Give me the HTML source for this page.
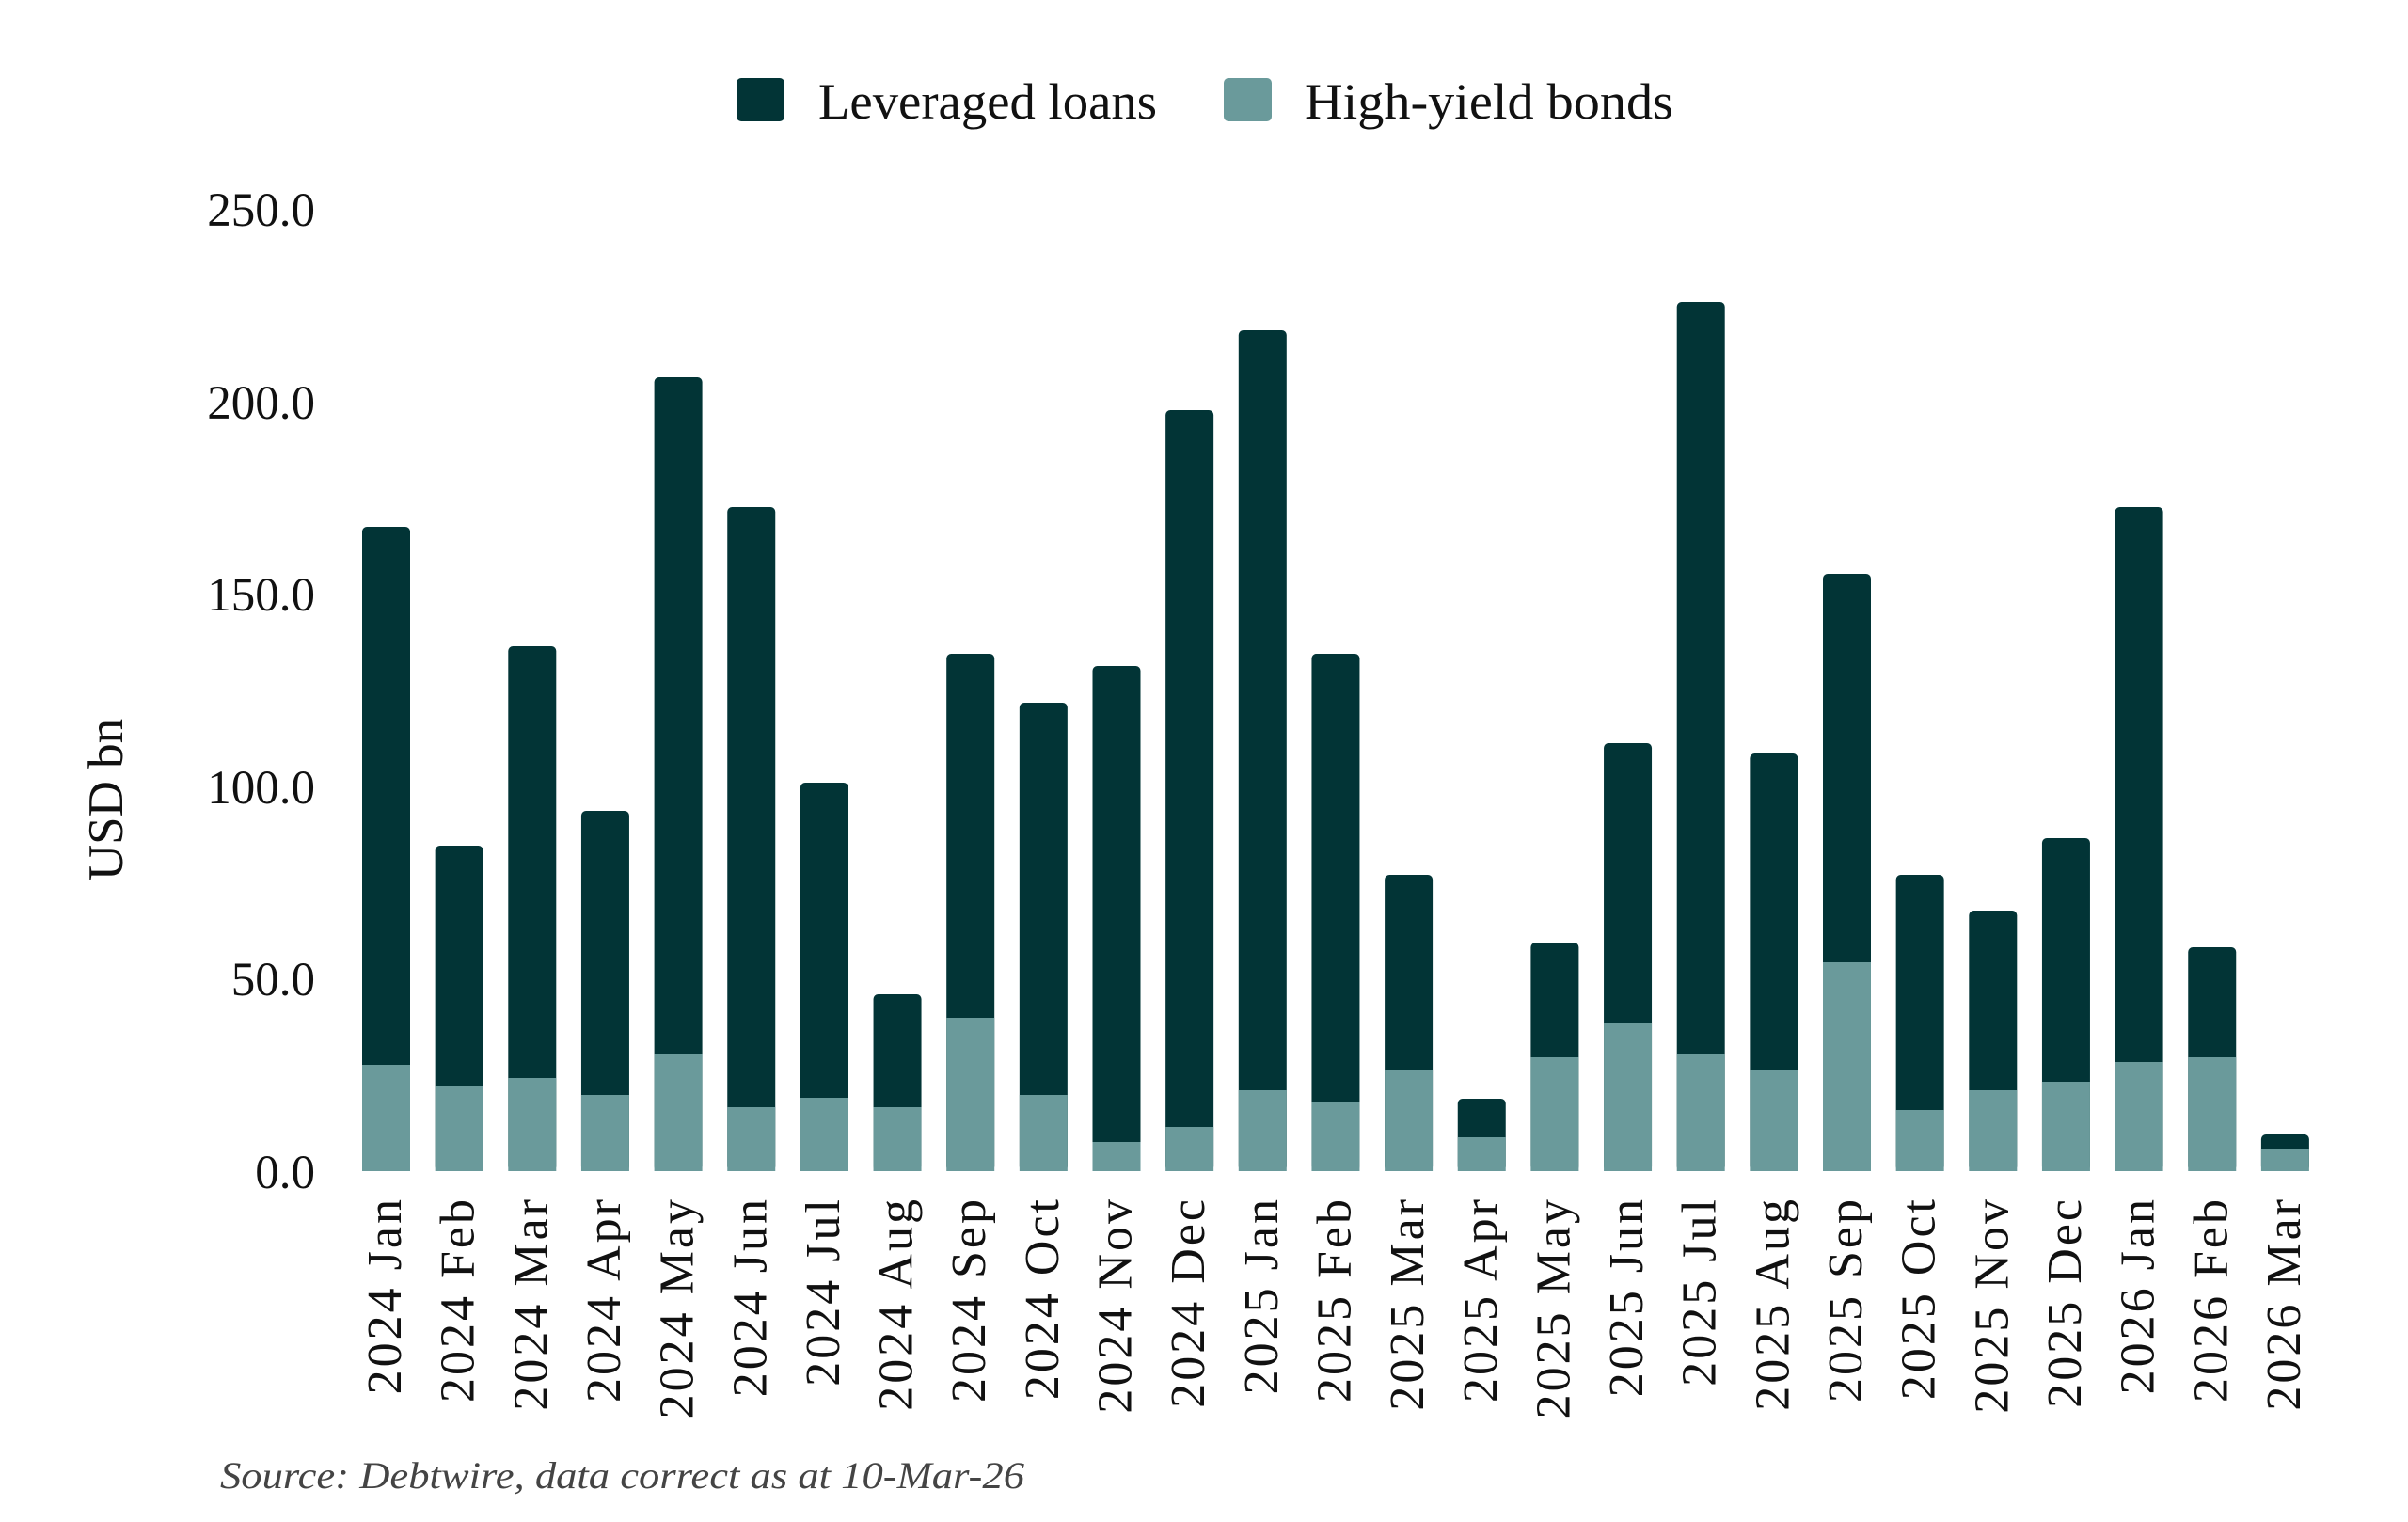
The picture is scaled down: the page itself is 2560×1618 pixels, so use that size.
<!DOCTYPE html>
<html><head><meta charset="utf-8"><style>
html,body{margin:0;padding:0;background:#fff;}
svg{display:block;}
text{font-family:"Liberation Serif",serif;fill:#111;}
</style></head><body>
<svg width="2560" height="1618" viewBox="0 0 2560 1618" xmlns="http://www.w3.org/2000/svg">
<rect width="2560" height="1618" fill="#fff"/>
<rect x="783" y="83" width="51" height="46" rx="5" fill="#023436"/>
<text x="870" y="126" font-size="54" textLength="360" lengthAdjust="spacingAndGlyphs">Leveraged loans</text>
<rect x="1301" y="83" width="51" height="46" rx="5" fill="#6a9a9b"/>
<text x="1387" y="126" font-size="54" textLength="392" lengthAdjust="spacingAndGlyphs">High-yield bonds</text>
<g font-size="51" text-anchor="end">
<text x="335" y="240">250.0</text>
<text x="335" y="445">200.0</text>
<text x="335" y="649">150.0</text>
<text x="335" y="854">100.0</text>
<text x="335" y="1058">50.0</text>
<text x="335" y="1263">0.0</text>
</g>
<text transform="translate(130,850) rotate(-90)" font-size="53" text-anchor="middle">USD bn</text>
<g id="bars">
<rect x="385" y="560" width="51" height="685" rx="5" fill="#023436"/><rect x="385" y="1132" width="51" height="113" fill="#6a9a9b"/>
<rect x="462.65" y="899" width="51" height="346" rx="5" fill="#023436"/><rect x="462.65" y="1154" width="51" height="91" fill="#6a9a9b"/>
<rect x="540.3" y="687" width="51" height="558" rx="5" fill="#023436"/><rect x="540.3" y="1146" width="51" height="99" fill="#6a9a9b"/>
<rect x="617.95" y="862" width="51" height="383" rx="5" fill="#023436"/><rect x="617.95" y="1164" width="51" height="81" fill="#6a9a9b"/>
<rect x="695.6" y="401" width="51" height="844" rx="5" fill="#023436"/><rect x="695.6" y="1121" width="51" height="124" fill="#6a9a9b"/>
<rect x="773.25" y="539" width="51" height="706" rx="5" fill="#023436"/><rect x="773.25" y="1177" width="51" height="68" fill="#6a9a9b"/>
<rect x="850.9" y="832" width="51" height="413" rx="5" fill="#023436"/><rect x="850.9" y="1167" width="51" height="78" fill="#6a9a9b"/>
<rect x="928.55" y="1057" width="51" height="188" rx="5" fill="#023436"/><rect x="928.55" y="1177" width="51" height="68" fill="#6a9a9b"/>
<rect x="1006.2" y="695" width="51" height="550" rx="5" fill="#023436"/><rect x="1006.2" y="1082" width="51" height="163" fill="#6a9a9b"/>
<rect x="1083.85" y="747" width="51" height="498" rx="5" fill="#023436"/><rect x="1083.85" y="1164" width="51" height="81" fill="#6a9a9b"/>
<rect x="1161.5" y="708" width="51" height="537" rx="5" fill="#023436"/><rect x="1161.5" y="1214" width="51" height="31" fill="#6a9a9b"/>
<rect x="1239.15" y="436" width="51" height="809" rx="5" fill="#023436"/><rect x="1239.15" y="1198" width="51" height="47" fill="#6a9a9b"/>
<rect x="1316.8" y="351" width="51" height="894" rx="5" fill="#023436"/><rect x="1316.8" y="1159" width="51" height="86" fill="#6a9a9b"/>
<rect x="1394.45" y="695" width="51" height="550" rx="5" fill="#023436"/><rect x="1394.45" y="1172" width="51" height="73" fill="#6a9a9b"/>
<rect x="1472.1" y="930" width="51" height="315" rx="5" fill="#023436"/><rect x="1472.1" y="1137" width="51" height="108" fill="#6a9a9b"/>
<rect x="1549.75" y="1168" width="51" height="77" rx="5" fill="#023436"/><rect x="1549.75" y="1209" width="51" height="36" fill="#6a9a9b"/>
<rect x="1627.4" y="1002" width="51" height="243" rx="5" fill="#023436"/><rect x="1627.4" y="1124" width="51" height="121" fill="#6a9a9b"/>
<rect x="1705.05" y="790" width="51" height="455" rx="5" fill="#023436"/><rect x="1705.05" y="1087" width="51" height="158" fill="#6a9a9b"/>
<rect x="1782.7" y="321" width="51" height="924" rx="5" fill="#023436"/><rect x="1782.7" y="1121" width="51" height="124" fill="#6a9a9b"/>
<rect x="1860.35" y="801" width="51" height="444" rx="5" fill="#023436"/><rect x="1860.35" y="1137" width="51" height="108" fill="#6a9a9b"/>
<rect x="1938" y="610" width="51" height="635" rx="5" fill="#023436"/><rect x="1938" y="1023" width="51" height="222" fill="#6a9a9b"/>
<rect x="2015.65" y="930" width="51" height="315" rx="5" fill="#023436"/><rect x="2015.65" y="1180" width="51" height="65" fill="#6a9a9b"/>
<rect x="2093.3" y="968" width="51" height="277" rx="5" fill="#023436"/><rect x="2093.3" y="1159" width="51" height="86" fill="#6a9a9b"/>
<rect x="2170.95" y="891" width="51" height="354" rx="5" fill="#023436"/><rect x="2170.95" y="1150" width="51" height="95" fill="#6a9a9b"/>
<rect x="2248.6" y="539" width="51" height="706" rx="5" fill="#023436"/><rect x="2248.6" y="1129" width="51" height="116" fill="#6a9a9b"/>
<rect x="2326.25" y="1007" width="51" height="238" rx="5" fill="#023436"/><rect x="2326.25" y="1124" width="51" height="121" fill="#6a9a9b"/>
<rect x="2403.9" y="1206" width="51" height="39" rx="5" fill="#023436"/><rect x="2403.9" y="1222" width="51" height="23" fill="#6a9a9b"/>
</g>
<g font-size="52" text-anchor="end" letter-spacing="3">
<text transform="translate(426,1272) rotate(-90)">2024 Jan</text>
<text transform="translate(503.65,1272) rotate(-90)">2024 Feb</text>
<text transform="translate(581.3,1272) rotate(-90)">2024 Mar</text>
<text transform="translate(658.95,1272) rotate(-90)">2024 Apr</text>
<text transform="translate(736.6,1272) rotate(-90)">2024 May</text>
<text transform="translate(814.25,1272) rotate(-90)">2024 Jun</text>
<text transform="translate(891.9,1272) rotate(-90)">2024 Jul</text>
<text transform="translate(969.55,1272) rotate(-90)">2024 Aug</text>
<text transform="translate(1047.2,1272) rotate(-90)">2024 Sep</text>
<text transform="translate(1124.85,1272) rotate(-90)">2024 Oct</text>
<text transform="translate(1202.5,1272) rotate(-90)">2024 Nov</text>
<text transform="translate(1280.15,1272) rotate(-90)">2024 Dec</text>
<text transform="translate(1357.8,1272) rotate(-90)">2025 Jan</text>
<text transform="translate(1435.45,1272) rotate(-90)">2025 Feb</text>
<text transform="translate(1513.1,1272) rotate(-90)">2025 Mar</text>
<text transform="translate(1590.75,1272) rotate(-90)">2025 Apr</text>
<text transform="translate(1668.4,1272) rotate(-90)">2025 May</text>
<text transform="translate(1746.05,1272) rotate(-90)">2025 Jun</text>
<text transform="translate(1823.7,1272) rotate(-90)">2025 Jul</text>
<text transform="translate(1901.35,1272) rotate(-90)">2025 Aug</text>
<text transform="translate(1979,1272) rotate(-90)">2025 Sep</text>
<text transform="translate(2056.65,1272) rotate(-90)">2025 Oct</text>
<text transform="translate(2134.3,1272) rotate(-90)">2025 Nov</text>
<text transform="translate(2211.95,1272) rotate(-90)">2025 Dec</text>
<text transform="translate(2289.6,1272) rotate(-90)">2026 Jan</text>
<text transform="translate(2367.25,1272) rotate(-90)">2026 Feb</text>
<text transform="translate(2444.9,1272) rotate(-90)">2026 Mar</text>
</g>
<text x="234" y="1582" font-size="40" font-style="italic" style="fill:#444" textLength="855" lengthAdjust="spacingAndGlyphs">Source: Debtwire, data correct as at 10-Mar-26</text>
</svg>
</body></html>
